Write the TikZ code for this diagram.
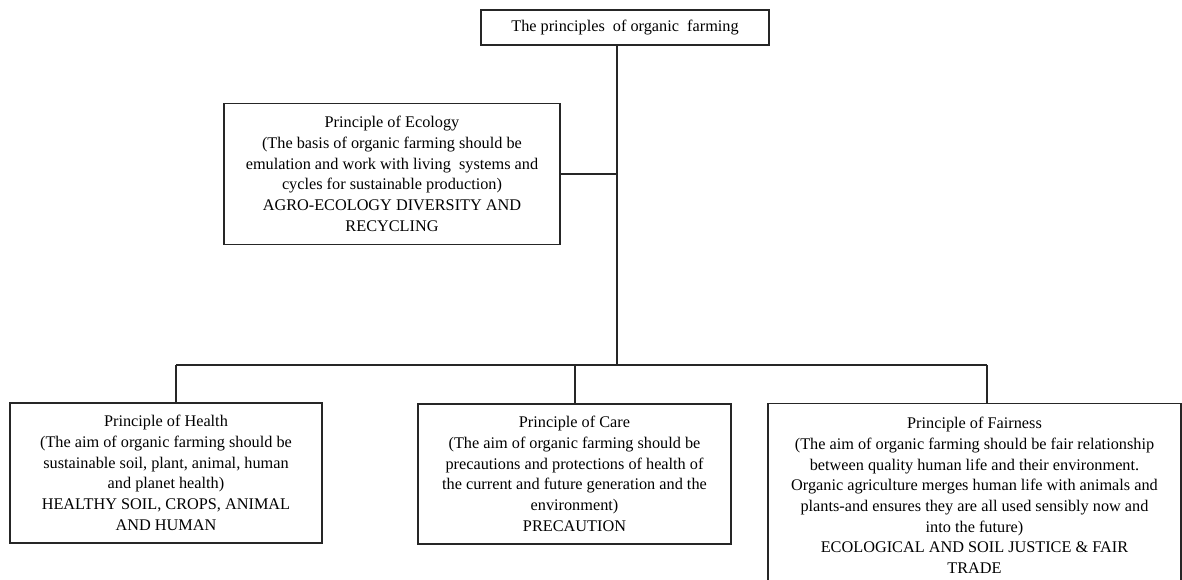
\documentclass[tikz,border=0pt]{standalone}
\usepackage{fontspec}
\setmainfont{Liberation Serif}
\usepackage{tikz}
\usetikzlibrary{positioning}
\tikzset{%
	principle box/.style={
		draw=black!85,
		line width=0.9pt,
		align=center,
		inner sep=2pt,
		font=\fontsize{12.2}{15.5}\selectfont
	},
	link/.style={
		draw=black!85,
		line width=0.9pt
	},
}

\begin{document}
\begin{tikzpicture}[x=0.75pt,y=-0.75pt]
			
			\useasboundingbox[fill=white] (0,0) rectangle (1182,580);
			\clip (0,0) rectangle (1182,580);
			
			\node[principle box, minimum width=216pt, minimum height=26.25pt] (top) at (625,27.5) {The principles~ of organic~ farming};
			
			\node[principle box, minimum width=252pt, minimum height=105.75pt] (ecology) at (392,174)
			{Principle of Ecology\\(The basis of organic farming should be\\emulation and work with living~ systems and\\cycles for sustainable production)\\AGRO-ECOLOGY DIVERSITY AND\\RECYCLING};
			
			\node[principle box, minimum width=234pt, minimum height=105pt] (health) at (166,473)
			{Principle of Health\\(The aim of organic farming should be\\sustainable soil, plant, animal, human\\and planet health)\\HEALTHY SOIL, CROPS, ANIMAL\\AND HUMAN};
			
			\node[principle box, minimum width=234.75pt, minimum height=105pt] (care) at (574.5,474)
			{Principle of Care\\(The aim of organic farming should be\\precautions and protections of health of\\the current and future generation and the\\environment)\\PRECAUTION};
			
			\node[principle box, minimum width=309.75pt, minimum height=138pt, anchor=north] (fairness) at (974.5,403)
			{Principle of Fairness\\(The aim of organic farming should be fair relationship\\between quality human life and their environment.\\Organic agriculture merges human life with animals and\\plants-and ensures they are all used sensibly now and\\into the future)\\ECOLOGICAL AND SOIL JUSTICE \& FAIR\\TRADE};
			
			\coordinate (hub) at (617,365);
			\coordinate (dropH) at (176,365);
			\coordinate (dropC) at (575,365);
			\coordinate (dropF) at (987,365);
			
			\draw[link] (top.south -| hub) -- (hub);
			\draw[link] (ecology.east) -- (ecology.east -| hub);
			\draw[link] (dropH) -- (dropF);
			\draw[link] (dropH) -- (dropH |- health.north);
			\draw[link] (dropC) -- (dropC |- care.north);
			\draw[link] (dropF) -- (dropF |- fairness.north);
		\end{tikzpicture}
\end{document}
